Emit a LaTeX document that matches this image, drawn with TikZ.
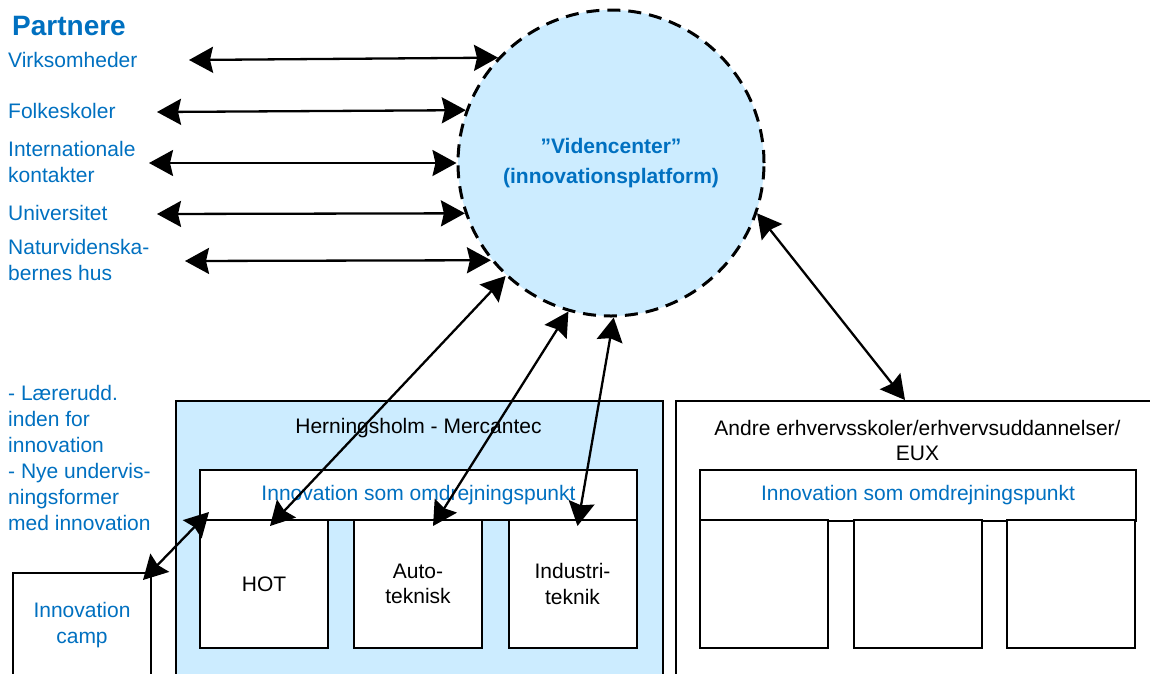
\documentclass[tikz,border=0pt]{standalone}
\usepackage{fontspec}
\setmainfont{Liberation Sans}
\usetikzlibrary{arrows.meta,calc}
\definecolor{txtblue}{HTML}{0070C0}
\definecolor{lightfill}{HTML}{CCECFF}
\begin{document}
\begin{tikzpicture}[x=1pt,y=-1pt,
  every node/.style={font=\fontsize{21}{25.5}\selectfont, inner sep=0pt},
  lbl/.style={text=txtblue, anchor=west, align=left},
  box/.style={draw=black, line width=2pt, fill=white, rectangle, inner sep=0pt},
  link/.style={line width=2.3pt, {Stealth[length=24pt,width=26pt,inset=3pt]}-{Stealth[length=24pt,width=26pt,inset=3pt]}},
]
\useasboundingbox (0,0) rectangle (1150,673);
\clip (0,0) rectangle (1150,673);

% boxes
\node[box, fill=lightfill, minimum width=487pt, minimum height=285pt, anchor=north west] (hh) at (175,400) {};
\node (hhtitle) at (418.5,428) {Herningsholm - Mercantec};
\node[box, minimum width=437pt, minimum height=50pt, text=txtblue] (hhbar) at (418.5,495) {Innovation som omdrejningspunkt};
\node[box, minimum size=128pt] (hot) at (264,584) {HOT};
\node[box, minimum size=128pt, align=center] (auto) at (418,584) {Auto-\\teknisk};
\node[box, minimum size=128pt, align=center] (ind) at (572.5,584) {Industri-\\teknik};

\node[box, minimum width=490pt, minimum height=285pt, anchor=north west] (andre) at (675,400) {};
\node[align=center] (andretitle) at (917.5,440.5) {Andre erhvervsskoler/erhvervsuddannelser/\\EUX};
\node[box, minimum width=436pt, minimum height=51pt, text=txtblue] (andrebar) at (918,495) {Innovation som omdrejningspunkt};
\node[box, minimum size=128pt] (a1) at (764,584) {};
\node[box, minimum size=128pt] (a2) at (917.5,584) {};
\node[box, minimum size=128pt] (a3) at (1071,584) {};

\node[box, minimum width=138pt, minimum height=104pt, anchor=north west, text=txtblue, align=center] (camp) at (12,572) {Innovation\\camp};

% circle
\node[circle, draw=black, fill=lightfill, line width=3pt, dash pattern=on 13pt off 8pt, minimum size=306pt, align=center, text=txtblue, font=\fontsize{21}{30}\selectfont\bfseries] (vc) at (611,163) {”Videncenter”\\(innovationsplatform)};

% labels
\node[lbl, font=\fontsize{28}{32}\selectfont\bfseries] (partnere) at (12,26) {Partnere};
\node[lbl] (virk) at (8,60) {Virksomheder};
\node[lbl] (folk) at (8,111) {Folkeskoler};
\node[lbl] (intl) at (8,162) {Internationale\\kontakter};
\node[lbl] (uni) at (8,213) {Universitet};
\node[lbl] (natur) at (8,260) {Naturvidenska-\\bernes hus};
\node[lbl, font=\fontsize{21}{26}\selectfont] (laerer) at (8,458) {- Lærerudd.\\inden for\\innovation\\- Nye undervis-\\ningsformer\\med innovation};

% arrow free ends
\coordinate (virkL) at (189,60);
\coordinate (folkL) at (157,112);
\coordinate (intlL) at (149,163);
\coordinate (uniL) at (157,214);
\coordinate (naturL) at (185,261);

\draw[link] (virkL) -- (vc.137.7);
\draw[link] (folkL) -- (vc.160.5);
\draw[link] (intlL) -- (vc.180);
\draw[link] (uniL) -- (vc.199.5);
\draw[link] (naturL) -- (vc.219.8);

\draw[link] ($(hot.north)+(6,7)$) -- (vc.227.8);
\draw[link] ($(auto.north)+(15,7)$) -- (vc.254.7);
\draw[link] ($(ind.north)+(5,7)$) -- (vc.271);
\draw[link] (vc.341.8) -- ($(andre.north west)+(230,0)$);
\draw[link] ($(camp.north east)+(-9,8)$) -- ($(hhbar.south west)+(10,-9)$);
\end{tikzpicture}
\end{document}
